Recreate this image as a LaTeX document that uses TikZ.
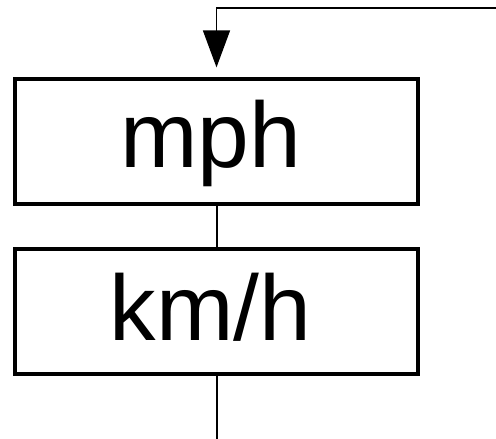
\documentclass[tikz,border=0pt]{standalone}
\usepackage{fontspec}
\setmainfont{Liberation Sans}
\usetikzlibrary{arrows.meta}
\begin{document}
\begin{tikzpicture}[x=1pt,y=-1pt,
  unitbox/.style={draw=black,line width=3.2pt,minimum width=403pt,minimum height=125pt,inner sep=0pt,font=\fontsize{93}{100}\selectfont,text depth=0pt},
  link/.style={draw=black,line width=2pt},
  feedback/.style={draw=black,line width=1.5pt}]
\useasboundingbox (0,0) rectangle (496,439);
\node[unitbox,text height=51pt] (mph) at (216.5,141.5) {mph\kern12pt};
\node[unitbox,text height=57pt] (kmh) at (216.5,311.5) {km/h\kern12pt};
\coordinate (in) at (496,8);
\coordinate (out) at (216.5,439);
\draw[link] (mph.south) -- (kmh.north);
\draw[link] (kmh.south) -- (out);
\draw[feedback,-{Triangle[width=27pt,length=37pt]},shorten >=10pt] (in) -| (mph.north);
\end{tikzpicture}
\end{document}
